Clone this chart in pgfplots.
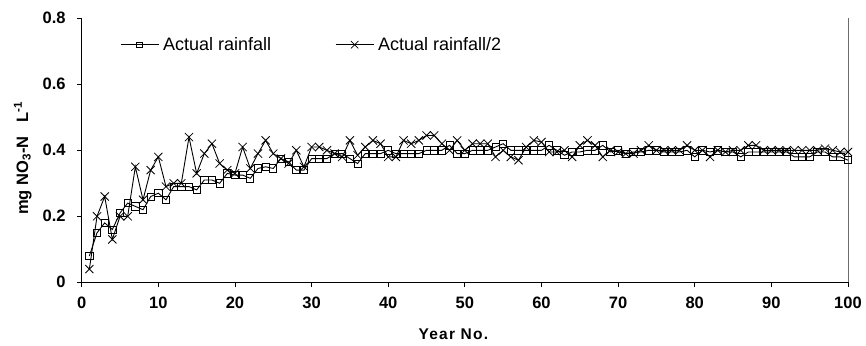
\documentclass[border=0pt]{standalone}
\usepackage{fontspec}
\setmainfont{Liberation Sans}
\usepackage{pgfplots}
\pgfplotsset{compat=1.18}
\begin{document}
\begin{tikzpicture}
\begin{axis}[
  width=766.3pt, height=264pt, scale only axis,
  xmin=0, xmax=100, ymin=0, ymax=0.8,
  axis lines=left,
  axis line style={-, line width=1.6pt, black},
  xtick={0,10,...,100},
  ytick={0,0.2,0.4,0.6,0.8},
  yticklabels={0,0.2,0.4,0.6,0.8},
  tick align=outside, major tick length=4.5pt,
  tick style={black, line width=0.8pt},
  /pgf/number format/assume math mode=true,
  ticklabel style={font=\fontsize{16.5}{19}\selectfont\bfseries},
  xticklabel style={yshift=-7pt},
  yticklabel style={xshift=-8pt},
  xlabel={Year No.},
  ylabel={mg NO\textsubscript{3}-N\ \ \ L\textsuperscript{-1}},
  every axis x label/.style={at={([yshift=-52pt]axis description cs:0.485,0)}, anchor=center, font=\fontsize{15.5}{18}\selectfont\bfseries\addfontfeatures{LetterSpace=8}},
  every axis y label/.style={at={([xshift=-59pt]axis description cs:0,0.47)}, rotate=90, anchor=center, font=\fontsize{16.5}{19}\selectfont\bfseries},
  clip=false,
  legend columns=2,
  legend style={draw=none, fill=none, at={(axis description cs:0.05,0.9)}, anchor=west,
    inner sep=0pt, font=\fontsize{18}{21}\selectfont,
    /tikz/every even column/.append style={column sep=60pt},
    nodes={inner xsep=4pt}},
  legend image code/.code={\draw[mark repeat=2, mark phase=2, #1] plot coordinates {(0pt,0pt) (19pt,0pt) (38pt,0pt)};},
]
\draw[gray!85!black, line width=0.9pt] (axis cs:100,0) -- (axis cs:100,0.8);
\addplot[black, line width=0.9pt, mark=square, mark size=3.6pt, mark options={solid, line width=0.8pt},
  legend image post style={mark size=2.8pt}] coordinates {
(1,0.08) (2,0.15) (3,0.18) (4,0.16) (5,0.21) (6,0.24) (7,0.23) (8,0.22) (9,0.26) (10,0.27)
(11,0.25) (12,0.29) (13,0.29) (14,0.29) (15,0.28) (16,0.31) (17,0.31) (18,0.30) (19,0.33) (20,0.325)
(21,0.325) (22,0.315) (23,0.345) (24,0.35) (25,0.345) (26,0.375) (27,0.365) (28,0.34) (29,0.34) (30,0.375)
(31,0.375) (32,0.375) (33,0.39) (34,0.39) (35,0.375) (36,0.36) (37,0.39) (38,0.39) (39,0.39) (40,0.40)
(41,0.39) (42,0.39) (43,0.39) (44,0.39) (45,0.40) (46,0.40) (47,0.40) (48,0.415) (49,0.39) (50,0.39)
(51,0.40) (52,0.40) (53,0.40) (54,0.41) (55,0.42) (56,0.40) (57,0.40) (58,0.40) (59,0.40) (60,0.40)
(61,0.415) (62,0.40) (63,0.385) (64,0.395) (65,0.395) (66,0.40) (67,0.40) (68,0.415) (69,0.395) (70,0.40)
(71,0.39) (72,0.395) (73,0.395) (74,0.40) (75,0.40) (76,0.395) (77,0.395) (78,0.395) (79,0.40) (80,0.38)
(81,0.40) (82,0.395) (83,0.40) (84,0.395) (85,0.395) (86,0.38) (87,0.395) (88,0.395) (89,0.395) (90,0.395)
(91,0.395) (92,0.395) (93,0.38) (94,0.38) (95,0.38) (96,0.395) (97,0.395) (98,0.38) (99,0.38) (100,0.37)
};
\addlegendentry{Actual rainfall}
\addplot[black, line width=0.9pt, mark=x, mark size=5.8pt, mark options={solid, line width=0.8pt},
  legend image post style={mark size=5.2pt}] coordinates {
(1,0.04) (2,0.20) (3,0.26) (4,0.13) (5,0.20) (6,0.20) (7,0.35) (8,0.25) (9,0.34) (10,0.38)
(11,0.29) (12,0.30) (13,0.30) (14,0.44) (15,0.33) (16,0.39) (17,0.42) (18,0.36) (19,0.34) (20,0.33)
(21,0.41) (22,0.345) (23,0.39) (24,0.43) (25,0.39) (26,0.375) (27,0.36) (28,0.40) (29,0.35) (30,0.41)
(31,0.41) (32,0.40) (33,0.39) (34,0.38) (35,0.43) (36,0.385) (37,0.41) (38,0.43) (39,0.42) (40,0.38)
(41,0.38) (42,0.43) (43,0.42) (44,0.43) (45,0.445) (46,0.445) (47,0.42) (48,0.40) (49,0.43) (50,0.40)
(51,0.42) (52,0.42) (53,0.42) (54,0.38) (55,0.40) (56,0.38) (57,0.37) (58,0.41) (59,0.43) (60,0.425)
(61,0.395) (62,0.395) (63,0.40) (64,0.38) (65,0.415) (66,0.43) (67,0.415) (68,0.38) (69,0.40) (70,0.395)
(71,0.39) (72,0.39) (73,0.40) (74,0.415) (75,0.40) (76,0.40) (77,0.40) (78,0.40) (79,0.415) (80,0.40)
(81,0.40) (82,0.38) (83,0.40) (84,0.395) (85,0.40) (86,0.40) (87,0.415) (88,0.415) (89,0.40) (90,0.40)
(91,0.40) (92,0.40) (93,0.40) (94,0.40) (95,0.40) (96,0.40) (97,0.405) (98,0.40) (99,0.395) (100,0.395)
};
\addlegendentry{Actual rainfall/2}
\end{axis}
\path (current axis.south west) ++(-81.7pt,-62.7pt) rectangle ++(866pt,345pt);
\end{tikzpicture}
\end{document}
